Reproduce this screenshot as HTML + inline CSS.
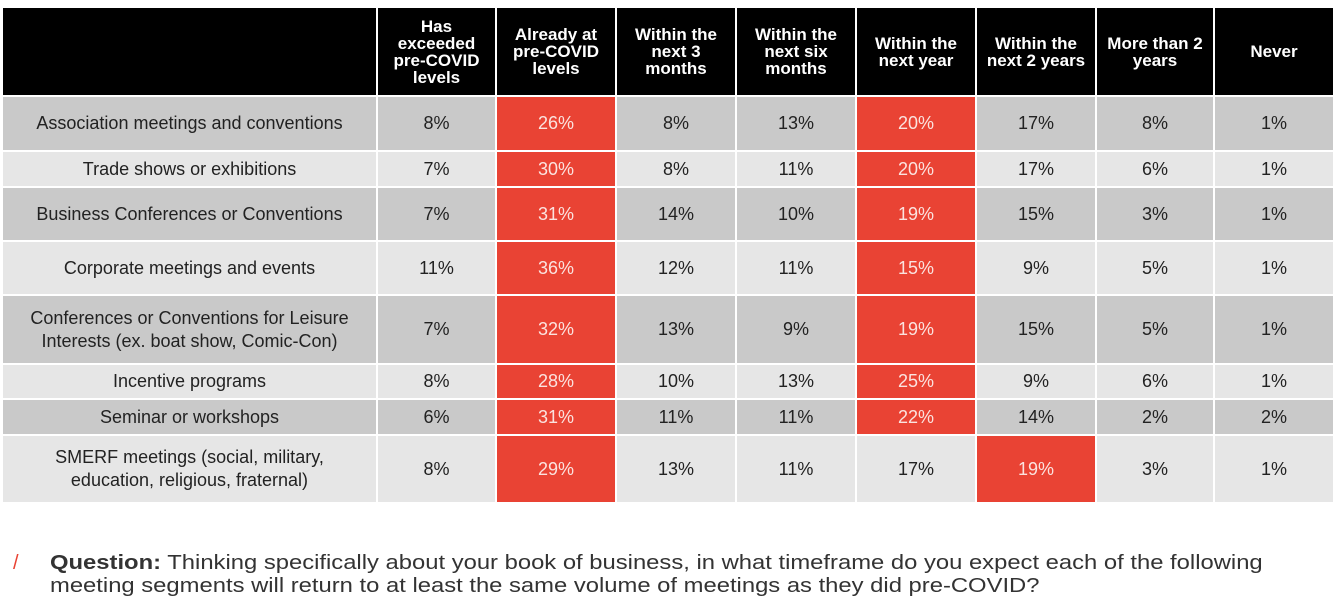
<!DOCTYPE html>
<html><head><meta charset="utf-8"><style>
html,body{margin:0;padding:0;background:#fff;width:1344px;height:605px;overflow:hidden;font-family:"Liberation Sans",sans-serif}
#t{position:absolute;left:0;top:0;width:1344px;height:510px}
.c{position:absolute;display:flex;align-items:center;justify-content:center;text-align:center;box-sizing:border-box;font-size:18px;color:#222;line-height:23px;white-space:pre-line}
.h{background:#000;color:#fff;font-weight:bold;font-size:17px;line-height:17px}
.q{position:absolute;left:50px;top:552px;font-size:20px;line-height:23px;color:#333;white-space:nowrap;transform:scaleX(1.19);transform-origin:0 0}
.sl{position:absolute;left:13px;top:552px;font-size:20px;color:#e94334}
</style></head><body>
<div id="t"></div>
<div class="sl">/</div>
<div class="q"><b>Question:</b> Thinking specifically about your book of business, in what timeframe do you expect each of the following<br>meeting segments will return to at least the same volume of meetings as they did pre-COVID?</div>
<script>
const columns=["Has\nexceeded\npre-COVID\nlevels","Already at\npre-COVID\nlevels","Within the\nnext 3\nmonths","Within the\nnext six\nmonths","Within the\nnext year","Within the\nnext 2 years","More than 2\nyears","Never"];
const segments=["Association meetings and conventions","Trade shows or exhibitions","Business Conferences or Conventions","Corporate meetings and events","Conferences or Conventions for Leisure\nInterests (ex. boat show, Comic-Con)","Incentive programs","Seminar or workshops","SMERF meetings (social, military,\neducation, religious, fraternal)"];
const values=[
[8,26,8,13,20,17,8,1],
[7,30,8,11,20,17,6,1],
[7,31,14,10,19,15,3,1],
[11,36,12,11,15,9,5,1],
[7,32,13,9,19,15,5,1],
[8,28,10,13,25,9,6,1],
[6,31,11,11,22,14,2,2],
[8,29,13,11,17,19,3,1]];
const colX=[3,378,497,617,737,857,977,1097,1215,1335];
const rowY=[8,97,152,188,242,296,365,400,436,504];
const t=document.getElementById('t');
function cell(x0,x1,y0,y1,txt,cls,bg,col){
 const d=document.createElement('div');
 d.className='c '+cls;
 d.style.left=x0+'px';d.style.top=y0+'px';
 d.style.width=(x1-x0-2)+'px';d.style.height=(y1-y0-2)+'px';
 if(bg)d.style.background=bg;if(col)d.style.color=col;
 d.textContent=txt;t.appendChild(d);return d;
}
let hc=cell(colX[0],colX[1],rowY[0],rowY[1],'','h');


columns.forEach((c,i)=>{
 const d=cell(colX[i+1],colX[i+2],rowY[0],rowY[1],c,'h');
 d.style.padding='0 2px';
 
 
});
segments.forEach((s,r)=>{
 const bg=r%2===0?'#c9c9c9':'#e6e6e6';
 const d=cell(colX[0],colX[1],rowY[r+1],rowY[r+2],s,'',bg);
 d.style.padding='0 2px';
 
 
 const sorted=[...values[r]].sort((a,b)=>b-a);
 values[r].forEach((v,i)=>{
  const hi=v>=sorted[1];
  const e=cell(colX[i+1],colX[i+2],rowY[r+1],rowY[r+2],v+'%','',hi?'#e94334':bg,hi?'#fbe3df':'#222');
  
  
 });
});
</script>
</body></html>
